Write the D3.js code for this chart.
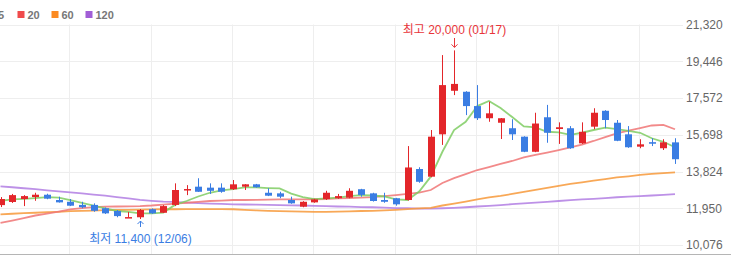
<!DOCTYPE html>
<meta charset="utf-8">
<style>
  body { margin: 0; background: #fff; }
  svg { display: block; font-family: "Liberation Sans", Arial, "Noto Sans CJK KR", sans-serif; }
  .grid line { stroke: #eeeeee; stroke-width: 1; }
  .axis text { fill: #666; font-size: 12px; }
  .legend text { fill: #777; font-size: 11px; font-weight: bold; }
  .ma path { fill: none; stroke-width: 1.8; stroke-opacity: 0.85; }
</style>
<body>
<script src="https://cdn.jsdelivr.net/npm/d3@7"></script>
<script>

const width = 731;
const height = 256;

const dates = ["11/20","11/21","11/22","11/23","11/24","11/27","11/28","11/29","11/30","12/01",
  "12/04","12/05","12/06","12/07","12/08","12/11","12/12","12/13","12/14","12/15",
  "12/18","12/19","12/20","12/21","12/22","12/26","12/27","12/28","01/02","01/03",
  "01/04","01/05","01/08","01/09","01/10","01/11","01/12","01/15","01/16","01/17",
  "01/18","01/19","01/22","01/23","01/24","01/25","01/26","01/29","01/30","01/31",
  "02/01","02/02","02/05","02/06","02/07","02/08","02/13","02/14","02/15"];

const openPrices = [12110,12270,12420,12520,12640,12370,12280,12120,12120,11950,
  11810,11480,11490,11900,11720,12120,12880,13050,13000,13000,
  12920,13050,13170,12740,12710,12370,12030,12250,12420,12460,
  12490,12920,12710,12370,12460,12370,13950,13560,15720,17940,
  17890,17160,16540,16310,16030,15600,14830,16590,15990,16030,
  15260,16110,16920,16310,15720,15090,15320,15010,15310];
const highPrices = [12520,12680,12620,12740,12690,12540,12420,12280,12200,11990,
  11860,11760,11910,11940,12110,13220,13130,13480,13220,13220,
  13390,13180,13190,12970,12790,12540,12310,12430,12840,12680,
  12970,12940,12740,12740,12480,15120,14040,15940,19760,20000,
  17920,18230,17380,16550,16490,15620,16820,17220,16330,16140,
  16330,17050,16950,16450,16140,15470,15520,15470,15520];
const lowPrices = [12010,12220,12060,12330,12410,12240,12060,11950,11770,11660,
  11490,11470,11400,11660,11710,12060,12620,12780,12680,12740,
  12880,12880,13000,12570,12460,12180,12000,12230,12370,12430,
  12460,12540,12290,12230,12080,12340,13250,13530,15180,17720,
  16700,16450,16360,15480,15430,14810,14810,15290,15230,14980,
  15230,15980,16030,15370,15030,15010,15120,14920,14210];
const closePrices = [12420,12620,12570,12640,12440,12250,12080,12000,11820,11690,
  11550,11500,11860,11690,12060,12880,12930,12790,12840,12790,
  13170,13170,13020,12590,12540,12200,12280,12400,12740,12570,
  12840,12630,12320,12280,12150,14030,13300,15600,18230,18290,
  17160,16540,16790,16540,15720,14830,16270,15800,16080,15010,
  15850,16820,16450,15390,15060,15210,15240,15310,14450];

const ma5 = [12330,12400,12430,12470,12520,12490,12370,12220,12090,11940,
  11810,11760,11690,11690,11730,12120,12320,12550,12740,12860,
  12930,13010,13010,12980,12960,12700,12520,12420,12450,12490,
  12570,12620,12600,12550,12400,12370,12800,13560,14830,15940,
  16360,17160,17420,17060,16600,16120,16070,15850,15820,15690,
  15800,15940,16060,15980,15890,15800,15520,15340,15060];
const ma20 = [11200,11320,11450,11580,11680,11780,11890,11960,12010,12030,
  12040,12050,12060,12090,12140,12190,12230,12280,12320,12340,
  12370,12370,12380,12390,12400,12400,12400,12410,12420,12450,
  12470,12490,12520,12570,12620,12680,12750,12880,13240,13490,
  13690,13900,14050,14210,14360,14540,14670,14790,14920,15050,
  15200,15380,15580,15770,15910,16040,16170,16200,15980];
const ma60 = [11640,11670,11700,11720,11750,11770,11800,11820,11830,11850,
  11860,11870,11880,11890,11900,11900,11910,11910,11910,11910,
  11900,11870,11840,11820,11800,11790,11780,11770,11770,11780,
  11790,11810,11820,11840,11870,11910,11940,11970,12090,12190,
  12290,12400,12500,12580,12680,12780,12890,12990,13090,13190,
  13270,13360,13440,13520,13580,13650,13700,13740,13780];
const ma120 = [13070,13020,12970,12920,12860,12810,12760,12710,12650,12590,
  12520,12450,12380,12330,12290,12270,12240,12210,12190,12170,
  12150,12140,12130,12120,12110,12100,12090,12070,12060,12040,
  12030,12010,12000,11980,11960,11950,11930,11930,11950,11970,
  12000,12040,12070,12110,12160,12200,12240,12280,12320,12360,
  12400,12430,12470,12510,12540,12570,12600,12630,12670];

const yTicks = [21320, 19446, 17572, 15698, 13824, 11950, 10076];
const gridDates = ["11/28","12/07","12/18","12/28","01/10","01/19","01/30","02/08"];

const maSeries = [
  {name: "5", values: ma5, color: "#7fcc63", legend: "#6cc04a"},
  {name: "20", values: ma20, color: "#f07676", legend: "#f04b4b"},
  {name: "60", values: ma60, color: "#f7993a", legend: "#fb8a21"},
  {name: "120", values: ma120, color: "#b27ee3", legend: "#a15ed6"}
];

const upColor = "#e3262a";
const downColor = "#3a7de3";

const xScale = d3.scalePoint().domain(dates).range([0.5, 675]);
const yScale = d3.scaleLinear().domain([10076, 21320]).range([245, 24.5]);

const svg = d3.select("body").append("svg")
  .attr("width", width)
  .attr("height", height);

// grid
const grid = svg.append("g").attr("class", "grid");
grid.selectAll("line.h")
  .data(yTicks)
  .enter().append("line")
  .attr("class", "h")
  .attr("x1", 0).attr("x2", 683)
  .attr("y1", d => Math.round(yScale(d)) + 0.5)
  .attr("y2", d => Math.round(yScale(d)) + 0.5);
grid.selectAll("line.v")
  .data(gridDates)
  .enter().append("line")
  .attr("class", "v")
  .attr("x1", d => Math.round(xScale(d)) - 0.5)
  .attr("x2", d => Math.round(xScale(d)) - 0.5)
  .attr("y1", yScale(21320)).attr("y2", 254);

svg.append("line")
  .attr("x1", 0).attr("x2", width)
  .attr("y1", 254.5).attr("y2", 254.5)
  .attr("stroke", "#b5b5b5");

// right axis
const axis = svg.append("g")
  .attr("class", "axis")
  .attr("transform", "translate(686,0)")
  .call(d3.axisRight(yScale).tickValues(yTicks).tickSize(0).tickPadding(0).tickFormat(d3.format(",")));
axis.select(".domain").remove();

// moving averages
const maLine = d3.line()
  .x((d, i) => xScale(dates[i]))
  .y(d => yScale(d));

svg.append("g").attr("class", "ma")
  .selectAll("path")
  .data(maSeries.slice().reverse())
  .enter().append("path")
  .attr("d", d => maLine(d.values))
  .attr("stroke", d => d.color);

// candles
const candles = dates.map((d, i) => ({date: d, o: openPrices[i], h: highPrices[i], l: lowPrices[i], c: closePrices[i]}));
const bodyW = 7;
const cg = svg.append("g").selectAll("g")
  .data(candles)
  .enter().append("g")
  .attr("fill", d => d.c >= d.o ? upColor : downColor)
  .attr("stroke", d => d.c >= d.o ? upColor : downColor);

cg.append("line")
  .attr("x1", d => Math.round(xScale(d.date)) + 0.5)
  .attr("x2", d => Math.round(xScale(d.date)) + 0.5)
  .attr("y1", d => yScale(d.h))
  .attr("y2", d => yScale(d.l))
  .attr("stroke-width", 1);

cg.append("rect")
  .attr("x", d => Math.round(xScale(d.date)) - 3)
  .attr("width", bodyW)
  .attr("y", d => yScale(Math.max(d.o, d.c)))
  .attr("height", d => Math.max(1.5, Math.abs(yScale(d.o) - yScale(d.c))))
  .attr("stroke", "none");

// high / low annotations
const hiIdx = d3.maxIndex(highPrices);
const loIdx = d3.minIndex(lowPrices);
const hx = Math.round(xScale(dates[hiIdx])) + 0.5;
const lx = Math.round(xScale(dates[loIdx])) + 0.5;
const fmt = d3.format(",");
const hy = yScale(highPrices[hiIdx]);
const ly = yScale(lowPrices[loIdx]);

svg.append("text")
  .attr("x", hx).attr("y", 34)
  .attr("text-anchor", "middle")
  .attr("fill", "#e8353a")
  .attr("font-size", 12)
  .text("최고 " + fmt(highPrices[hiIdx]) + " (" + dates[hiIdx] + ")");
svg.append("path")
  .attr("d", "M" + hx + ",38V" + (hy - 3) + "M" + (hx - 3) + "," + (hy - 6) + "L" + hx + "," + (hy - 3) + "L" + (hx + 3) + "," + (hy - 6))
  .attr("fill", "none")
  .attr("stroke", "#e8353a");

svg.append("text")
  .attr("x", lx).attr("y", 243)
  .attr("text-anchor", "middle")
  .attr("fill", "#3a7de3")
  .attr("font-size", 12)
  .text("최저 " + fmt(lowPrices[loIdx]) + " (" + dates[loIdx] + ")");
svg.append("path")
  .attr("d", "M" + lx + ",227V" + (ly + 2) + "M" + (lx - 3) + "," + (ly + 5) + "L" + lx + "," + (ly + 2) + "L" + (lx + 3) + "," + (ly + 5))
  .attr("fill", "none")
  .attr("stroke", "#3a7de3");

// legend
const legend = svg.append("g").attr("class", "legend");
const legendX = [-12, 17.5, 51.5, 85.5];
const items = legend.selectAll("g")
  .data(maSeries)
  .enter().append("g")
  .attr("transform", (d, i) => "translate(" + legendX[i] + ",11)");
items.append("rect")
  .attr("width", 7).attr("height", 7)
  .attr("fill", d => d.legend);
items.append("text")
  .attr("x", 10).attr("y", 7.5)
  .text(d => d.name);

</script>
</body>
